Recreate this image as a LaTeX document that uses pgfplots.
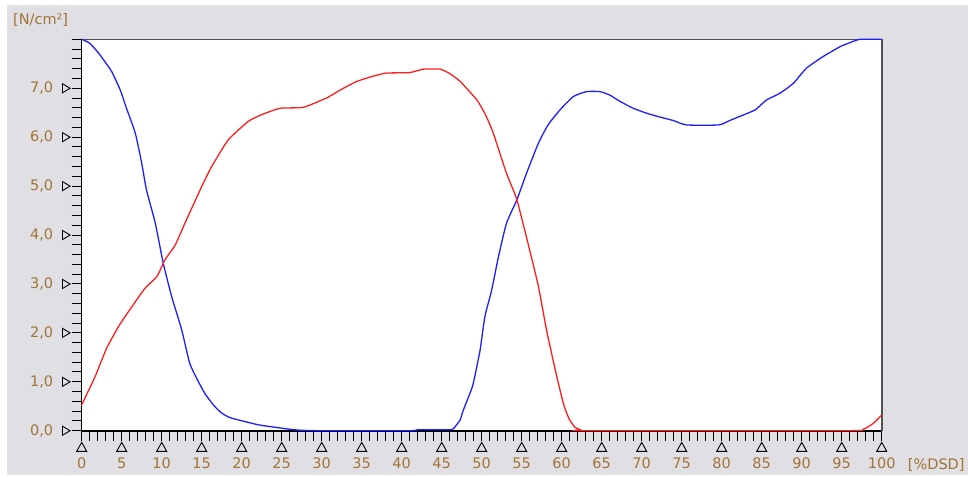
\documentclass[border=0pt]{standalone}
\usepackage{pgfplots}
\pgfplotsset{compat=1.18}
\usepackage{fontspec}
\setmainfont{DejaVu Sans}
\definecolor{bggray}{RGB}{224,224,228}
\definecolor{lblcol}{RGB}{160,115,55}
\definecolor{framegray}{RGB}{80,80,80}
\definecolor{cblue}{RGB}{30,30,255}
\definecolor{cred}{RGB}{255,30,30}
\newcommand{\xtri}{\tikz\draw[black,line width=0.9pt,line join=miter] (0,0)--(10pt,0)--(5pt,9pt)--cycle;}
\newcommand{\ytri}{\tikz[baseline=0pt]\draw[black,line width=0.9pt,line join=miter] (0,0)--(0,9pt)--(7.5pt,4.5pt)--cycle;}
\pgfplotstableread{
x y
0 8.00
1 7.92
2.1 7.72
3 7.52
3.75 7.34
4.8 6.97
5.6 6.59
6.7 6.08
7.5 5.47
8.1 4.92
9.2 4.24
10.2 3.42
11.25 2.74
12.5 2.06
13.5 1.38
14.5 1.03
15.4 0.76
16.5 0.52
17.5 0.36
18.5 0.27
19.6 0.22
22.1 0.12
24.2 0.07
26 0.03
27.3 0.01
30 0
41 0
42 0.02
46 0.02
46.5 0.05
47.3 0.22
47.7 0.42
48.5 0.75
48.95 0.97
49.8 1.65
50.4 2.33
51.25 2.88
52.1 3.56
53.1 4.24
54.4 4.72
55.6 5.26
57.1 5.88
58.3 6.25
59.8 6.56
61.45 6.83
63.1 6.93
64.8 6.93
66 6.86
67.3 6.73
68.95 6.59
70.6 6.49
72.3 6.41
73.95 6.34
75.6 6.25
79.6 6.25
81.0 6.34
82.5 6.44
84.2 6.56
85.6 6.76
87.3 6.90
88.95 7.10
90.6 7.41
92.7 7.65
94.8 7.85
96 7.93
97.3 8.0
100 8.0
}\blue
\pgfplotstableread{
x y
0 0.53
1.66 1.10
3.1 1.68
4.6 2.13
6.0 2.47
7.9 2.91
9.4 3.15
10.4 3.49
11.7 3.80
12.9 4.24
15.0 4.99
16.25 5.40
18.3 5.94
20.8 6.32
22.5 6.46
24.8 6.59
27.7 6.61
30.6 6.80
32.5 6.98
34.4 7.14
36.5 7.25
38.1 7.31
41.0 7.32
42.7 7.39
44.8 7.39
46 7.30
47.3 7.14
49.4 6.76
50.5 6.45
51.45 6.08
53.1 5.26
54.4 4.72
56.0 3.69
57.1 2.94
58.1 2.06
59.2 1.24
60.2 0.56
60.9 0.25
61.6 0.08
62.3 0.02
63.0 0
95.6 0
97.7 0.03
98.95 0.15
100 0.32
}\red
\begin{document}
\begin{tikzpicture}
\useasboundingbox (-81.7pt,-46.3pt) rectangle (886.3pt,430.7pt);
\fill[white] (-81.7pt,-46.3pt) rectangle (886.3pt,430.7pt);
\fill[bggray] (-74.7pt,-44.3pt) rectangle (886.3pt,425.7pt);
\begin{axis}[
  scale only axis, width=800pt, height=391.4pt,
  xmin=0, xmax=100, ymin=0, ymax=8,
  clip=false,
  /pgf/number format/assume math mode=true,
  axis background/.style={fill=white},
  axis lines=left,
  axis line style={-, black, line width=1.6pt},
  xtick={0,5,...,100}, ytick={0,1,...,7},
  minor xtick={0,1,...,100}, minor ytick={0,0.2,...,7.9},
  tick align=outside,
  major tick length=10pt, minor tick length=10pt,
  tick style={black, line width=1pt},
  ticklabel style={font=\fontsize{14.5}{16}\selectfont, text=lblcol},
  xticklabel style={align=center, anchor=north, inner sep=0pt, yshift=-1pt},
  yticklabel style={anchor=east, inner sep=0pt, xshift=-1pt},
  xticklabel={\xtri\\[1pt]\pgfmathprintnumber[fixed,precision=0,assume math mode=true]{\tick}},
  yticklabel={\pgfmathprintnumber[use comma,fixed,fixed zerofill,precision=1,assume math mode=true]{\tick}\hspace{9pt}\ytri},
]
\draw[framegray, line width=1.6pt] (rel axis cs:0,1) -- (rel axis cs:1,1) -- (rel axis cs:1,0);
\addplot[cblue, line width=1.3pt, no marks, smooth, tension=0.35] table {\blue};
\addplot[cred, line width=1.3pt, no marks, smooth, tension=0.3] table {\red};
\node[anchor=west, text=lblcol, font=\fontsize{14.5}{16}\selectfont, inner sep=0pt] at ([xshift=26pt,yshift=-34pt]rel axis cs:1,0) {[\%DSD]};
\node[anchor=west, text=lblcol, font=\fontsize{14.5}{16}\selectfont, inner sep=0pt] at ([xshift=-68.7pt,yshift=19pt]rel axis cs:0,1) {[N/cm²]};
\end{axis}
\end{tikzpicture}
\end{document}
